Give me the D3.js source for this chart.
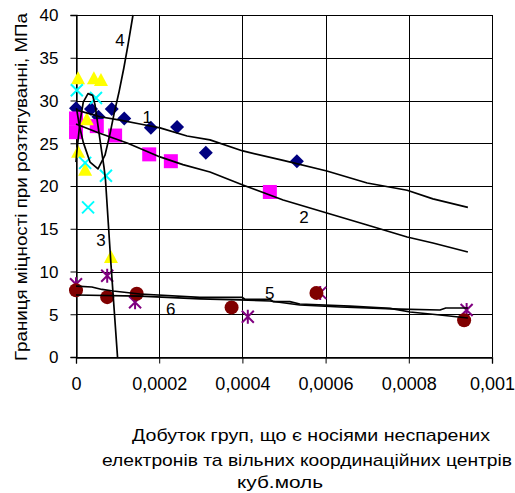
<!DOCTYPE html>
<html><head><meta charset="utf-8">
<script src="https://cdn.jsdelivr.net/npm/d3@7"></script>
<style>body{margin:0;background:#fff}svg{display:block}text{font-family:Arial,"Liberation Sans",sans-serif;fill:#000}</style>
</head><body><svg id="c" width="515" height="493"></svg>
<script>
// ---- data ----
const xTicks = [0, 0.0002, 0.0004, 0.0006, 0.0008, 0.001];
const xTickLabels = ["0", "0,0002", "0,0004", "0,0006", "0,0008", "0,001"];
const yTicks = [0, 5, 10, 15, 20, 25, 30, 35, 40];

const navyX = [0, 0.000036, 0.000054, 0.000086, 0.000116, 0.00018, 0.000243, 0.000312, 0.000531];
const navyY = [29.1, 29.0, 28.1, 29.0, 27.9, 26.8, 26.9, 23.9, 22.9];
const magentaX = [0, 0, 0.00005, 0.000094, 0.000176, 0.000228, 0.000466];
const magentaY = [27.9, 26.3, 27.0, 25.9, 23.7, 22.9, 19.3];
const yellowX = [0.000005, 0.000043, 0.00006, 0.000026, 0.000005, 0.000022, 0.000084];
const yellowY = [32.6, 32.6, 32.4, 27.8, 24.0, 21.9, 11.7];
const cyanX = [0.000002, 0.000048, 0.000022, 0.000072, 0.000029];
const cyanY = [31.2, 30.3, 22.7, 21.2, 17.5];
const purpleX = [0, 0.000075, 0.000142, 0.000413, 0.000587, 0.000939];
const purpleY = [8.5, 9.5, 6.4, 4.7, 7.5, 5.5];
const darkredX = [0, 0.000075, 0.000146, 0.000374, 0.000578, 0.000933];
const darkredY = [7.8, 7.0, 7.4, 5.8, 7.5, 4.3];

const curve1X = [0, 0.0000577, 0.000106, 0.000154, 0.000202, 0.000267, 0.000322, 0.000401, 0.000498, 0.000603, 0.0007, 0.000796, 0.000858, 0.000942];
const curve1Y = [28.9, 28.1, 27.7, 27.25, 26.8, 25.85, 25.4, 24.1, 23.0, 21.75, 20.35, 19.5, 18.5, 17.5];
const curve2X = [0, 0.0000553, 0.000123, 0.000202, 0.000257, 0.000322, 0.000401, 0.000498, 0.000603, 0.0007, 0.000796, 0.000858, 0.000942];
const curve2Y = [27.25, 26.2, 25.03, 23.4, 22.5, 21.64, 20.12, 18.36, 16.84, 15.44, 14.04, 13.33, 12.28];
const curve3X = [0, 0.0000024, 0.0000096, 0.0000175, 0.0000288, 0.00004, 0.0000457, 0.0000536, 0.0000618, 0.0000673, 0.0000709, 0.0000841, 0.0000998];
const curve3Y = [22.8, 24.2, 27.5, 29.8, 30.8, 30.6, 29.5, 26.8, 24.0, 22.2, 20.7, 10.8, 0];
const curve4X = [0.0000012, 0.0000079, 0.0000175, 0.0000337, 0.0000529, 0.0000697, 0.0000817, 0.0000913, 0.000103, 0.000115, 0.000125, 0.000137];
const curve4Y = [29.1, 27.1, 25.1, 22.8, 22.0, 23.6, 26.1, 28.4, 30.9, 33.8, 36.5, 40];
const curve5X = [0, 0.000038, 0.0000625, 0.000089, 0.000154, 0.000298, 0.000399, 0.000406, 0.000466, 0.000474, 0.000514, 0.000538, 0.000659, 0.000755, 0.000803, 0.000875, 0.000942];
const curve5Y = [8.3, 8.19, 7.9, 7.72, 7.37, 6.98, 6.98, 6.75, 6.75, 6.47, 6.47, 6.2, 5.96, 5.68, 5.26, 4.91, 4.56];
const curve6X = [0, 0.000154, 0.000298, 0.000394, 0.000466, 0.000538, 0.000635, 0.000779, 0.000875, 0.000889, 0.000942];
const curve6Y = [7.25, 7.13, 6.8, 6.67, 6.55, 6.08, 5.85, 5.61, 5.5, 5.73, 5.73];

const curveLabels = ["1", "2", "3", "4", "5", "6"];
const curveLabelX = [0.000171, 0.000548, 0.00006, 0.000106, 0.000466, 0.000228];
const curveLabelY = [28.1, 16.4, 13.7, 37.1, 7.5, 5.6];

const yTitle = "Границя міцності при розтягуванні, МПа";
const xTitleLines = ["Добуток груп, що є носіями неспарених", "електронів та вільних координаційних центрів", "куб.моль"];

// ---- chart ----
const svg = d3.select("#c");
const x = d3.scaleLinear().domain([0, 0.001]).range([76, 492]);
const y = d3.scaleLinear().domain([0, 40]).range([357, 15]);

// gridlines
const g = svg.append("g");
g.selectAll("line.h").data(yTicks).join("line")
  .attr("x1", x(0)).attr("x2", x(0.001))
  .attr("y1", d => Math.round(y(d)) + 0.5).attr("y2", d => Math.round(y(d)) + 0.5)
  .attr("stroke", "#000").attr("stroke-width", 1);
g.selectAll("line.v").data(xTicks).join("line")
  .attr("y1", y(0)).attr("y2", y(40))
  .attr("x1", d => Math.round(x(d)) + 0.5).attr("x2", d => Math.round(x(d)) + 0.5)
  .attr("stroke", "#000").attr("stroke-width", 1);

// axes
const xAxis = d3.axisBottom(x).tickValues(xTicks).tickSize(6).tickPadding(14)
  .tickFormat((d, i) => xTickLabels[i]);
const yAxis = d3.axisLeft(y).tickValues(yTicks).tickSize(6).tickPadding(12);
const gx = svg.append("g").attr("transform", `translate(0,${Math.round(y(0)) + 0.5})`).call(xAxis);
const gy = svg.append("g").attr("transform", `translate(${Math.round(x(0)) + 0.5},0)`).call(yAxis);
[gx, gy].forEach(a => {
  a.select(".domain").attr("stroke", "#000").attr("stroke-width", 1.3);
  a.selectAll(".tick line").attr("stroke", "#000");
  a.selectAll(".tick text").style("font-family", "Arial, 'Liberation Sans', sans-serif").attr("fill", "#000");
});
gx.selectAll(".tick text").style("font-size", "18px");
gy.selectAll(".tick text").style("font-size", "17px").attr("dy", "0.35em");

// markers
const mk = svg.append("g");
function pts(xs, ys) { return xs.map((v, i) => [v, ys[i]]); }
mk.selectAll("path.navy").data(pts(navyX, navyY)).join("path")
  .attr("transform", d => `translate(${x(d[0])},${y(d[1])})`)
  .attr("d", "M0,-7L7,0L0,7L-7,0Z").attr("fill", "#000080");
mk.selectAll("rect.mag").data(pts(magentaX, magentaY)).join("rect")
  .attr("x", d => x(d[0]) - 7).attr("y", d => y(d[1]) - 7)
  .attr("width", 14).attr("height", 14).attr("fill", "#FF00FF");
mk.selectAll("path.yel").data(pts(yellowX, yellowY)).join("path")
  .attr("transform", d => `translate(${x(d[0])},${y(d[1])})`)
  .attr("d", "M0,-7L7,6L-7,6Z").attr("fill", "#FFFF00");
mk.selectAll("path.cy").data(pts(cyanX, cyanY)).join("path")
  .attr("transform", d => `translate(${x(d[0])},${y(d[1])})`)
  .attr("d", "M-6,-6L6,6M-6,6L6,-6").attr("stroke", "#00FFFF").attr("stroke-width", 2).attr("fill", "none");
mk.selectAll("path.pu").data(pts(purpleX, purpleY)).join("path")
  .attr("transform", d => `translate(${x(d[0])},${y(d[1])})`)
  .attr("d", "M-6,-6L6,6M-6,6L6,-6M0,-7L0,7").attr("stroke", "#800080").attr("stroke-width", 2).attr("fill", "none");
mk.selectAll("circle.dr").data(pts(darkredX, darkredY)).join("circle")
  .attr("cx", d => x(d[0])).attr("cy", d => y(d[1])).attr("r", 7).attr("fill", "#800000");

// curves
const line = d3.line().x(d => x(d[0])).y(d => y(d[1]));
const curves = [[curve1X, curve1Y], [curve2X, curve2Y], [curve3X, curve3Y], [curve4X, curve4Y], [curve5X, curve5Y], [curve6X, curve6Y]];
svg.append("g").selectAll("path").data(curves).join("path")
  .attr("d", c => line(pts(c[0], c[1])))
  .attr("fill", "none").attr("stroke", "#000").attr("stroke-width", 1.7).attr("stroke-linejoin", "round");

// curve labels
svg.append("g").selectAll("text").data(curveLabels).join("text")
  .attr("x", (d, i) => x(curveLabelX[i])).attr("y", (d, i) => y(curveLabelY[i]))
  .attr("text-anchor", "middle").attr("dy", "0.35em")
  .style("font-size", "17px").text(d => d);

// titles
svg.append("text").attr("transform", "translate(27,187) rotate(-90)")
  .attr("text-anchor", "middle").style("font-size", "17px")
  .attr("textLength", 348).attr("lengthAdjust", "spacingAndGlyphs").text(yTitle);
const xl = [[311, 441, 358], [307, 466, 410], [280, 488, 86]];
svg.append("g").selectAll("text").data(xTitleLines).join("text")
  .attr("x", (d, i) => xl[i][0]).attr("y", (d, i) => xl[i][1])
  .attr("text-anchor", "middle").style("font-size", "17px")
  .attr("textLength", (d, i) => xl[i][2]).attr("lengthAdjust", "spacingAndGlyphs")
  .text(d => d);
</script></body></html>
